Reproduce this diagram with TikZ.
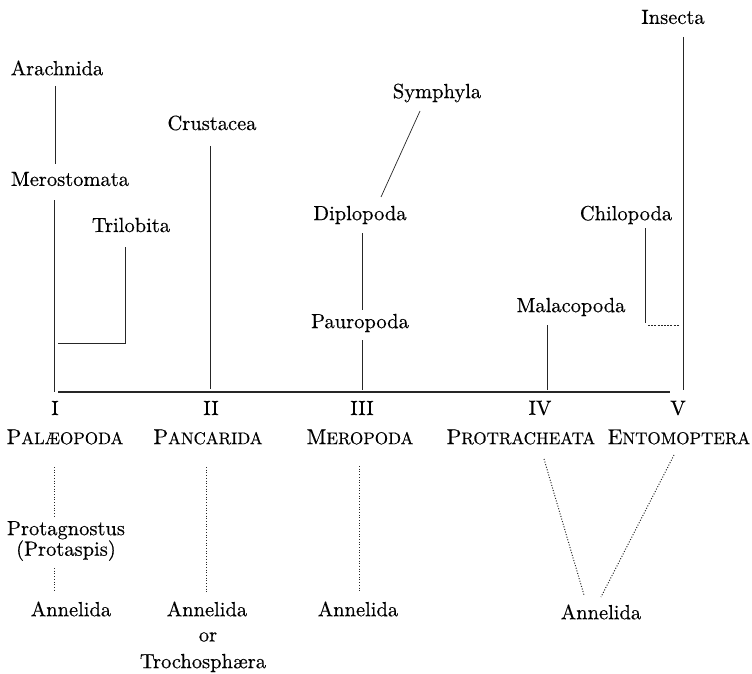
\documentclass[tikz,border=0pt]{standalone}
\usepackage{fontspec}
\newfontfamily\oldf{lmroman10-regular.otf}[FakeBold=0.4]
\newcommand{\mysc}[2]{{\fontsize{21.5}{18}\selectfont #1}{\fontsize{17}{18}\selectfont #2}}
\begin{document}
\begin{tikzpicture}[x=1pt,y=-1pt,
  lbl/.style={inner sep=0pt,font=\oldf\fontsize{20.5}{18}\selectfont},
  sclbl/.style={inner sep=0pt,font=\oldf\fontsize{20.5}{18}\selectfont},
  ln/.style={draw=black!85,line width=0.7pt},
  dotln/.style={draw=black!85,line width=1pt,dash pattern=on 1pt off 1.7pt},
  dashln/.style={draw=black!85,line width=0.9pt,dash pattern=on 2pt off 1.2pt}]
\useasboundingbox (0,0) rectangle (752,674);
% upper labels
\node[lbl] (arach) at (57,68) {Arachnida};
\node[lbl] (mero) at (70,179) {Merostomata};
\node[lbl] (trilo) at (131,225) {Trilobita};
\node[lbl] (crust) at (212,123) {Crustacea};
\node[lbl] (symph) at (437,93) {Symphyla};
\node[lbl] (diplo) at (360,215) {Diplopoda};
\node[lbl] (pauro) at (360,323) {Pauropoda};
\node[lbl] (insecta) at (673,17) {Insecta};
\node[lbl] (chilo) at (626,215) {Chilopoda};
\node[lbl] (malaco) at (571,307) {Malacopoda};
% lower labels
\node[lbl] (nI) at (55,408) {I};
\node[lbl] (nII) at (211,408) {II};
\node[lbl] (nIII) at (362,408) {III};
\node[lbl] (nIV) at (540,408) {IV};
\node[lbl] (nV) at (678,408) {V};
\node[sclbl] (palaeo) at (65,437) {\mysc{P}{AL\AE OPODA}};
\node[sclbl] (pancar) at (208,437) {\mysc{P}{ANCARIDA}};
\node[sclbl] (meropo) at (360,437) {\mysc{M}{EROPODA}};
\node[sclbl] (protra) at (521,437) {\mysc{P}{ROTRACHEATA}};
\node[sclbl] (entomo) at (679,437) {\mysc{E}{NTOMOPTERA}};
\node[lbl,align=center] (protag) at (66,541) {Protagnostus\\(Protaspis)};
\node[lbl] (annI) at (71,609) {Annelida};
\node[lbl] (annII) at (207,609) {Annelida};
\node[lbl] (orII) at (208,637) {or};
\node[lbl] (troch) at (203,663) {Trochosph\ae ra};
\node[lbl] (annIII) at (358,609) {Annelida};
\node[lbl] (annIV) at (601,612) {Annelida};
% coordinates of connector ends
\coordinate (baseL) at (58,392);
\coordinate (baseR) at (670,392);
\coordinate (arachB) at (55,86);
\coordinate (meroT) at (55,164);
\coordinate (meroB) at (54,200);
\coordinate (meroBase) at (54,392);
\coordinate (triT) at (125,247);
\coordinate (triL) at (58,343);
\coordinate (crustB) at (210,146);
\coordinate (crustBase) at (210,389);
\coordinate (symphB) at (420,111);
\coordinate (diploT) at (381,197);
\coordinate (diploB) at (362,233);
\coordinate (pauroT) at (362,310);
\coordinate (pauroB) at (362,340);
\coordinate (pauroBase) at (362,390);
\coordinate (insB) at (683,37);
\coordinate (insBase) at (683,390);
\coordinate (chiloB) at (645,228);
\coordinate (chiloE) at (645,323);
\coordinate (chiloD1) at (648,325);
\coordinate (chiloD2) at (679,325);
\coordinate (malB) at (547,325);
\coordinate (malBase) at (547,390);
\coordinate (pI1) at (54,467);
\coordinate (pI2) at (54,518);
\coordinate (pI3) at (54,568);
\coordinate (pI4) at (54,590);
\coordinate (pII1) at (206,467);
\coordinate (pII2) at (206,592);
\coordinate (pIII1) at (359,466);
\coordinate (pIII2) at (359,592);
\coordinate (pIV1) at (544,459);
\coordinate (pIV2) at (584,595);
\coordinate (pV1) at (674,455);
\coordinate (pV2) at (601,597);
% connectors
\draw[ln,line width=1.1pt] (baseL) -- (baseR);
\draw[ln] (arachB) -- (meroT);
\draw[ln] (meroB) -- (meroBase);
\draw[ln] (triT) |- (triL);
\draw[ln] (crustB) -- (crustBase);
\draw[ln] (symphB) -- (diploT);
\draw[ln] (diploB) -- (pauroT);
\draw[ln] (pauroB) -- (pauroBase);
\draw[ln] (insB) -- (insBase);
\draw[ln] (chiloB) -- (chiloE);
\draw[dashln] (chiloD1) -- (chiloD2);
\draw[ln] (malB) -- (malBase);
\draw[dotln] (pI1) -- (pI2);
\draw[dotln] (pI3) -- (pI4);
\draw[dotln] (pII1) -- (pII2);
\draw[dotln] (pIII1) -- (pIII2);
\draw[dotln] (pIV1) -- (pIV2);
\draw[dotln] (pV1) -- (pV2);
\end{tikzpicture}
\end{document}
